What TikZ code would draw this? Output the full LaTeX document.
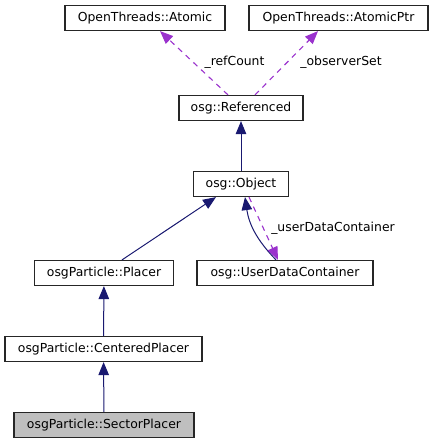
\documentclass[tikz,border=0pt]{standalone}
\usepackage{fontspec}
\setmainfont{DejaVu Sans}
\usetikzlibrary{arrows.meta}
\definecolor{inhcol}{HTML}{191970}
\definecolor{usecol}{HTML}{9A32CD}
\tikzset{
  cls/.style={draw=black!85, line width=1.2pt, inner sep=0pt, minimum height=25pt, font=\fontsize{12.4}{14}\selectfont},
  lbl/.style={inner sep=0pt, font=\fontsize{12.4}{14}\selectfont},
  inh/.style={draw=inhcol, line width=1pt, -{Triangle[length=13pt,width=10.5pt]}},
  use/.style={draw=usecol, line width=1.1pt, dash pattern=on 5.5pt off 5pt, -{Triangle[length=13pt,width=10.5pt]}}
}
\begin{document}
\begin{tikzpicture}[x=1pt,y=-1pt]
    \useasboundingbox (0,0) rectangle (433,444);
    \node [cls, minimum width=160pt] (atomic) at (145,18) {OpenThreads::Atomic};
    \node [cls, minimum width=179pt] (atomicptr) at (338.5,18) {OpenThreads::AtomicPtr};
    \node [cls, minimum width=124pt] (referenced) at (241,108) {osg::Referenced};
    \node [cls, minimum width=95pt] (object) at (241,184) {osg::Object};
    \node [cls, minimum width=139pt] (placer) at (104,273) {osgParticle::Placer};
    \node [cls, minimum width=176pt] (udc) at (285,273) {osg::UserDataContainer};
    \node [cls, minimum width=197pt] (centered) at (103.5,349) {osgParticle::CenteredPlacer};
    \node [cls, minimum width=180pt, fill=black!25] (sector) at (104,425) {osgParticle::SectorPlacer};
    \node [lbl] (refcount) at (234.5,62) {\_refCount};
    \node [lbl] (observerset) at (341,62) {\_observerSet};
    \node [lbl] (userdata) at (333,228) {\_userDataContainer};
    \draw [use] ([xshift=-13pt]referenced.north) -- ([xshift=15pt]atomic.south);
    \draw [use] ([xshift=14pt]referenced.north) -- ([xshift=-20.5pt]atomicptr.south);
    \draw [inh] (object) -- (referenced);
    \draw [inh] ([xshift=18pt]placer.north) -- ([xshift=-25pt]object.south);
    \draw [inh] ([xshift=-9pt]udc.north) to [bend left=18] ([xshift=4pt]object.south);
    \draw [use] ([xshift=8pt]object.south) -- ([xshift=-7pt]udc.north);
    \draw [inh] (centered) -- (placer);
    \draw [inh] (sector) -- (centered);
  \end{tikzpicture}
\end{document}
